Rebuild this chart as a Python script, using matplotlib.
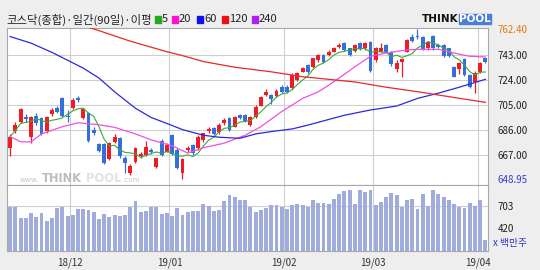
import numpy as np
import pandas as pd
import matplotlib
matplotlib.use("Agg")
import matplotlib.pyplot as plt
from matplotlib.patches import Rectangle

plt.rcParams['font.family'] = ['Noto Sans CJK KR', 'DejaVu Sans']

# 일봉 시세 (18/11 중순 ~ 19/04/02), 값은 그림에서 읽은 추정치
opens = [672, 685, 692, 696, 681, 697, 695, 685, 698, 702.5,
         710, 697, 703, 710, 695, 699, 686, 675, 675, 664,
         677, 680, 665, 653, 662, 666, 667, 671, 658, 678,
         669.5, 682, 671, 653, 671, 674.6, 672, 678.4, 685.5, 687.3,
         684.3, 691, 694.9, 688.6, 697.4, 697.4, 689.8, 695.7, 704.5, 712.6,
         712.6, 712.1, 718.9, 718.9, 717.7, 724, 730.3, 735.4, 734.1, 739.2,
         743, 743, 745.5, 749.3, 752.4, 748, 746.3, 752.4, 748, 753.1,
         739.2, 745.5, 750.6, 745.5, 732.1, 737.4, 745.5, 756.9, 757.8, 756.9,
         748, 757.4, 750.6, 750.6, 748, 733.7, 732.1, 739.7, 727.8, 722.8,
         730.3, 740.5]
closes = [681, 690, 702, 694, 696, 691, 683, 696, 701, 699.5,
          697, 696, 709, 709, 702, 678, 684, 670, 661, 676,
          681, 666, 661, 659, 672, 668, 673, 669, 664.5, 667,
          674.6, 668, 657, 664, 672, 668.3, 681, 683.5, 686.5, 683,
          689.8, 693.6, 686, 695.7, 694.9, 693, 695.7, 703.7, 711.3, 715.1,
          709.3, 715.9, 715.1, 715.1, 727.8, 729.1, 732.9, 730.3, 740.5, 743,
          737.9, 745.5, 748, 750.6, 746.8, 743, 750.6, 747.3, 752.4, 731.1,
          748, 748, 745.5, 735.9, 736.7, 739.7, 754.4, 753.9, 757, 747.3,
          753.1, 748, 748.9, 742.2, 742.2, 726.5, 736.7, 727.8, 718.9, 729.6,
          736.7, 737.4]
highs = [683, 692, 703, 698, 697, 699, 696, 697, 703, 704,
         711, 701, 710, 712, 703, 700, 688, 676, 676, 677,
         683, 681, 666, 660, 673, 669, 678, 672, 665, 679,
         676, 683, 672, 665, 674, 675, 682, 684, 688, 688,
         691, 695, 696, 697, 698, 698, 697, 705, 712, 717,
         713, 717, 720, 720, 729, 730, 734, 736, 741, 744,
         744, 746.5, 749, 752, 753, 748.5, 751.5, 753, 753, 754,
         749, 752, 751.5, 746, 739, 741, 755, 759, 762.4, 757.5,
         754, 758, 751.5, 751, 748.5, 734.5, 738, 740.5, 728.5, 730.5,
         737.5, 741]
lows = [666, 684, 691, 692, 676, 690, 682, 684, 697, 699,
        696, 692, 702, 707, 694, 677, 682, 669, 660, 663,
        676, 665, 653, 652, 661, 665, 666, 668, 657, 666,
        669, 667, 656, 648.95, 669, 667, 671, 677, 684, 682,
        683, 690, 685, 688, 694, 692, 689, 695, 704, 712,
        706, 711, 714, 714, 717, 723, 730, 729, 733, 738,
        737, 742, 745, 748, 746, 742, 745.5, 746.5, 747, 730,
        738, 745, 745, 735, 730, 726, 745, 753, 755, 746.5,
        747, 747, 748, 741.5, 741.5, 726, 728.5, 727, 718, 714.4,
        729.5, 737]
volumes = [694, 686, 544, 544, 609, 557, 609, 514, 553, 682,
           694, 579, 587, 664, 664, 652, 630, 536, 600, 557,
           587, 579, 587, 686, 767, 622, 643, 694, 694, 600,
           609, 574, 673, 587, 622, 643, 643, 729, 707, 643,
           652, 772, 845, 815, 780, 780, 694, 630, 652, 673,
           716, 716, 694, 664, 716, 729, 716, 694, 780, 737,
           737, 729, 789, 857, 896, 909, 729, 909, 887, 909,
           716, 750, 823, 866, 845, 694, 780, 789, 664, 857,
           703, 909, 857, 823, 780, 729, 694, 673, 737, 703,
           780, 266]

# 이동평균선 (봉 번호, 값)
ma20_idx = [0, 2, 4, 6, 10, 13, 17, 20, 24, 27, 31, 34, 37, 41, 45,
            48, 52, 56, 59, 61, 63, 66, 69, 72, 76, 78, 82, 85, 88, 91]
ma20_val = [681, 677, 677, 683, 688.5, 691.5, 690, 688, 683, 678.5, 674, 668.5, 672.5, 676, 682,
            688.5, 700, 710, 715, 720, 725.5, 734, 742, 744.5, 746.8, 747.3, 747.3, 744.5, 742, 741.5]
ma60_idx = [0, 4, 8, 11, 14, 17, 20, 24, 27, 30, 33, 37, 40, 44, 47, 50,
            54, 57, 61, 64, 69, 74, 78, 82, 86, 91]
ma60_val = [757, 752, 745, 739, 733, 725.5, 715, 702.5, 695.5, 691, 686.3, 682, 680.5, 679.7, 683, 684.8,
            686.8, 689.7, 694, 697.2, 701.2, 704.2, 710, 714, 718.5, 724.5]
ma120_idx = [12, 17, 23, 30, 33, 37, 43, 50, 56, 61, 66, 72, 78, 85, 91]
ma120_val = [768, 761.5, 753.5, 745.5, 742.5, 738, 733.7, 730.2, 726.5, 724.5, 722.5, 718.5, 715.1, 710.7, 707]

month_pos = [11.5, 30.5, 52.5, 69.5, 89.5]
month_labels = ["18/12", "19/01", "19/02", "19/03", "19/04"]
price_ticks = [762.40, 743, 724, 705, 686, 667, 648.95]
price_grid = [743, 724, 705, 686, 667]
vol_ticks = [703, 420]

RED = "#ee1c24"
BLUE = "#3470dc"
GRID = "#cfcfcf"
W, H = 540, 270


def box(l, t, r, b):
    return [l / W, 1 - b / H, (r - l) / W, (b - t) / H]


fig = plt.figure(figsize=(5.4, 2.7), dpi=100, facecolor="#eeeeee")
ax = fig.add_axes(box(7, 28, 488, 185))
axv = fig.add_axes(box(7, 185, 488, 251), sharex=ax)

idx = np.arange(len(closes))
o = np.array(opens)
c = np.array(closes)
col = np.where(c >= o, RED, BLUE)

# 그리드
for g in price_grid:
    ax.axhline(g, color=GRID, lw=0.8, zorder=0)
axv.axhline(vol_ticks[0], color=GRID, lw=0.8, zorder=0)
for p in month_pos:
    ax.axvline(p, color=GRID, lw=0.8, zorder=0)
    axv.axvline(p, color=GRID, lw=0.8, zorder=0)

# 캔들
body = np.abs(c - o)
h = np.maximum(body, 0.8)
ax.vlines(idx, lows, highs, colors=col, lw=0.9, zorder=2)
ax.bar(idx, h, bottom=np.minimum(o, c) - (h - body) / 2, width=0.74, color=col, lw=0, zorder=2)

# 이평선
ma5 = pd.Series(closes).rolling(5, min_periods=1).mean()
ax.plot(idx, ma5, color="#3aa83a", lw=0.8, zorder=3)
ax.plot(ma20_idx, ma20_val, color="#f050e0", lw=0.9, zorder=3)
ax.plot(ma60_idx, ma60_val, color="#2a2ad8", lw=0.9, zorder=3)
ax.plot(ma120_idx, ma120_val, color="#e82828", lw=0.9, zorder=3)

ax.set_xlim(-0.6, 91.5)
ax.set_ylim(644.2, 763.5)
ax.yaxis.tick_right()
ax.set_yticks(price_ticks)
ax.set_yticklabels([f"{v:.2f}" for v in price_ticks])
ax.tick_params(axis="y", length=0, pad=7, labelsize=7, labelcolor="#202020")
ax.tick_params(axis="x", bottom=False, labelbottom=False)
tl = ax.get_yticklabels()
tl[0].set_color("#e07a10")
tl[-1].set_color("#3a3ad0")

# 거래량
axv.bar(idx, volumes, width=0.74, color="#a0acdc", lw=0, zorder=2)
axv.set_ylim(124, 973)
axv.yaxis.tick_right()
axv.set_yticks(vol_ticks)
axv.set_yticklabels([str(v) for v in vol_ticks])
axv.tick_params(axis="y", length=0, pad=7, labelsize=7, labelcolor="#202020")
axv.set_xticks(month_pos)
axv.set_xticklabels(month_labels)
axv.tick_params(axis="x", length=0, pad=5, labelsize=7, labelcolor="#333333")

for a in (ax, axv):
    a.set_facecolor("white")
    for s in a.spines.values():
        s.set_color("#a8a8a8")
        s.set_linewidth(0.8)

# 제목과 범례
fig.text(6 / W, 1 - 19.5 / H, "코스닥(종합)·일간(90일)·이평", fontsize=8.2, va="center", color="#222222")
legend = [("#22aa22", "5", 155), ("#ff10d0", "20", 172), ("#1010ee", "60", 197),
          ("#ee1010", "120", 222), ("#b020f0", "240", 252)]
for colr, lab, px in legend:
    fig.add_artist(Rectangle((px / W, 1 - 22.5 / H), 5.5 / W, 6.5 / H, color=colr, transform=fig.transFigure))
    fig.text((px + 7) / W, 1 - 19.5 / H, lab, fontsize=8, va="center", color="#222222")

# 로고
fig.add_artist(Rectangle((459 / W, 1 - 24 / H), 32 / W, 10 / H, color="#4a7fd8", transform=fig.transFigure))
fig.text(459 / W, 1 - 19 / H, "THINK", fontsize=7.5, fontweight="bold", ha="right", va="center",
         family="DejaVu Sans", color="#111111")
fig.text(475 / W, 1 - 19 / H, "POOL", fontsize=7.5, fontweight="bold", ha="center", va="center",
         family="DejaVu Sans", color="white")

# 워터마크
fig.text(20 / W, 1 - 180 / H, "www.", fontsize=5.2, va="center", color="#c4c4c4", family="DejaVu Sans")
fig.text(42 / W, 1 - 178 / H, "THINK", fontsize=8.3, fontweight="bold", va="center", color="#bdbdbd",
         family="DejaVu Sans")
fig.text(86 / W, 1 - 178 / H, "POOL", fontsize=8.3, fontweight="bold", va="center", color="#e2e2e2",
         family="DejaVu Sans")
fig.text(122 / W, 1 - 180 / H, ".com", fontsize=5.2, va="center", color="#c4c4c4", family="DejaVu Sans")

fig.text(493 / W, 1 - 243 / H, "x 백만주", fontsize=7, va="center", color="#3333cc")

fig.savefig("out.png", dpi=100, facecolor=fig.get_facecolor())
